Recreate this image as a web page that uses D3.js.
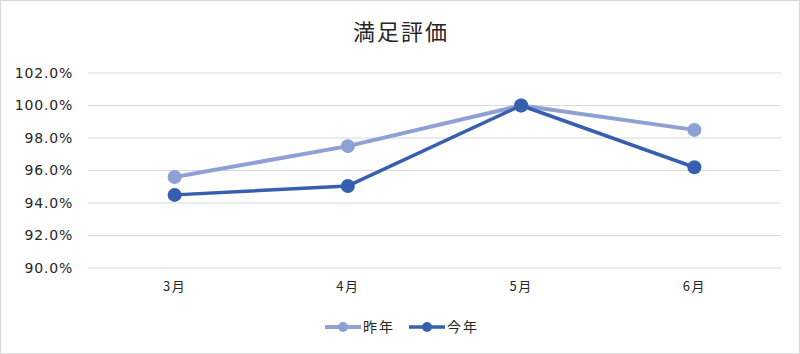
<!DOCTYPE html>
<html>
<head>
<meta charset="utf-8">
<script src="https://cdn.jsdelivr.net/npm/d3@7"></script>
<style>
  body { margin: 0; background: #fff; }
  svg { display: block; font-family: "Noto Sans CJK JP", "Noto Sans", sans-serif; }
</style>
</head>
<body>
<svg id="chart"></svg>
<script>
const months = ['3月', '4月', '5月', '6月'];
const lastYear = [95.6, 97.5, 100.0, 98.5];
const thisYear = [94.5, 95.05, 100.0, 96.2];
const yTicks = [90, 92, 94, 96, 98, 100, 102];
const seriesNames = ['昨年', '今年'];

const width = 800;
const height = 354;
const margin = { top: 73, right: 19, bottom: 86, left: 88 };

const svg = d3.select('#chart')
  .attr('width', width)
  .attr('height', height);

svg.append('rect')
  .attr('x', 0.5).attr('y', 0.5)
  .attr('width', width - 1).attr('height', height - 1)
  .attr('fill', '#fff')
  .attr('stroke', '#d9d9d9');

svg.append('text')
  .attr('x', width / 2 + 1)
  .attr('y', 40)
  .attr('text-anchor', 'middle')
  .attr('font-size', 22)
  .attr('letter-spacing', 2)
  .attr('fill', '#262626')
  .text('満足評価');

const x = d3.scaleBand()
  .domain(months)
  .range([margin.left, width - margin.right]);

const y = d3.scaleLinear()
  .domain([90, 102])
  .range([height - margin.bottom, margin.top]);

// gridlines
svg.append('g')
  .selectAll('line')
  .data(yTicks)
  .enter().append('line')
  .attr('x1', margin.left)
  .attr('x2', width - margin.right)
  .attr('y1', d => y(d))
  .attr('y2', d => y(d))
  .attr('stroke', '#d9d9d9')
  .attr('stroke-width', 1);

// y axis labels
const yAxis = d3.axisLeft(y)
  .tickValues(yTicks)
  .tickSize(0)
  .tickPadding(15)
  .tickFormat(d => d.toFixed(1) + '%');

svg.append('g')
  .attr('transform', `translate(${margin.left},0)`)
  .call(yAxis)
  .call(g => g.select('.domain').remove())
  .selectAll('text')
  .attr('font-size', 14)
  .attr('letter-spacing', 0.8)
  .attr('font-family', '"DejaVu Sans", sans-serif')
  .attr('fill', '#262626');

// x axis labels
const xAxis = d3.axisBottom(x).tickSize(0).tickPadding(14);
svg.append('g')
  .attr('transform', `translate(0,${height - margin.bottom})`)
  .call(xAxis)
  .call(g => g.select('.domain').remove())
  .selectAll('text')
  .attr('font-size', 13)
  .attr('letter-spacing', 1.5)
  .attr('font-family', '"Noto Sans CJK JP", sans-serif')
  .attr('fill', '#262626');

const cx = d => x(d) + x.bandwidth() / 2;

const series = [
  { name: seriesNames[0], values: lastYear, color: '#8EA1D4', width: 4 },
  { name: seriesNames[1], values: thisYear, color: '#3660AF', width: 3.5 }
];

const line = d3.line()
  .x((d, i) => cx(months[i]))
  .y(d => y(d));

series.forEach(s => {
  svg.append('path')
    .datum(s.values)
    .attr('fill', 'none')
    .attr('stroke', s.color)
    .attr('stroke-width', s.width)
    .attr('stroke-linejoin', 'round')
    .attr('d', line);

  svg.append('g')
    .selectAll('circle')
    .data(s.values)
    .enter().append('circle')
    .attr('cx', (d, i) => cx(months[i]))
    .attr('cy', d => y(d))
    .attr('r', 7)
    .attr('fill', s.color);
});

// legend
const legend = svg.append('g').attr('transform', 'translate(0,327)');
const legendX = [325, 409];
series.forEach((s, i) => {
  const g = legend.append('g').attr('transform', `translate(${legendX[i]},0)`);
  g.append('line')
    .attr('x1', 0).attr('x2', 36)
    .attr('y1', 0).attr('y2', 0)
    .attr('stroke', s.color)
    .attr('stroke-width', s.width);
  g.append('circle')
    .attr('cx', 18).attr('cy', 0).attr('r', 5)
    .attr('fill', s.color);
  g.append('text')
    .attr('x', 38).attr('y', 5)
    .attr('font-size', 14)
    .attr('letter-spacing', 2)
    .attr('fill', '#262626')
    .text(s.name);
});
</script>
</body>
</html>
